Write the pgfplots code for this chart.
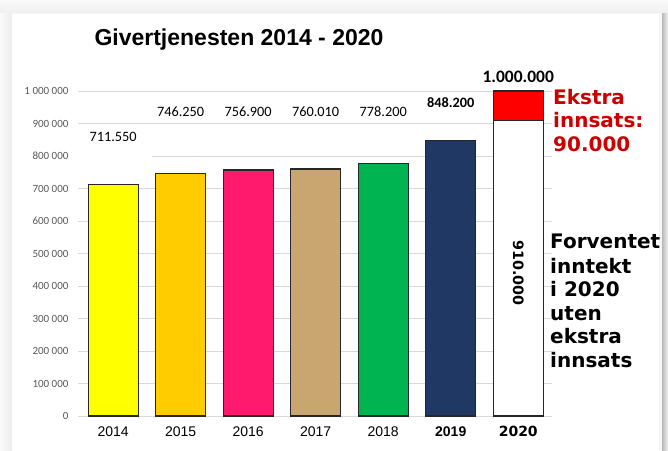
\documentclass[border=0pt]{standalone}
\usepackage{fontspec}
\setmainfont{Liberation Sans}
\newfontfamily\carl{Carlito}
\newfontfamily\dvs{DejaVu Sans}
\usepackage{pgfplots}
\pgfplotsset{compat=1.18}
\definecolor{c14}{HTML}{FFFF00}
\definecolor{c15}{HTML}{FFCC00}
\definecolor{c16}{HTML}{FF1A6E}
\definecolor{c17}{HTML}{C9A56F}
\definecolor{c18}{HTML}{00B451}
\definecolor{c19}{HTML}{1F3864}
\definecolor{redtxt}{HTML}{CC0000}
\definecolor{tickgray}{HTML}{595959}
\definecolor{gridgray}{HTML}{D9D9D9}
\begin{document}
\begin{tikzpicture}
\useasboundingbox (0pt,0pt) rectangle (668pt,450pt);
\fill[gray!6] (0pt,0pt) rectangle (668pt,450pt);
\shade[left color=gray!4, right color=gray!14] (0pt,0pt) rectangle (12pt,437pt);
\shade[top color=gray!4, bottom color=gray!12] (0pt,437pt) rectangle (668pt,450pt);
\fill[white] (12pt,0pt) rectangle (659pt,436pt);
\fill[gray!8] (659pt,0pt) rectangle (662pt,436pt);
\shade[left color=gray!55, right color=gray!10] (662pt,0pt) rectangle (668pt,436pt);
\node[anchor=base, font=\bfseries\fontsize{23}{27}\selectfont] at (239pt,404pt) {Givertjenesten 2014 - 2020};
\begin{axis}[
  at={(78pt,34pt)}, anchor=south west, scale only axis,
  width=474pt, height=325pt,
  xmin=-0.52, xmax=6.5, ymin=0, ymax=1000000,
  clip=false,
  axis line style={draw=none},
  ymajorgrids, grid style={color=gridgray, line width=0.9pt},
  major tick length=0pt,
  scaled y ticks=false,
  ytick={0,100000,200000,300000,400000,500000,600000,700000,800000,900000,1000000},
  /pgf/number format/fixed,
  /pgf/number format/precision=0,
  /pgf/number format/assume math mode=true,
  /pgf/number format/1000 sep={\hspace{2.5pt}},
  yticklabel style={font=\carl\fontsize{11}{13}\selectfont, text=tickgray, xshift=-6pt},
  xtick={0,1,2,3,4,5,6},
  xticklabels={2014,2015,2016,2017,2018,\textbf{2019},{\dvs\bfseries 2020}},
  xticklabel style={font=\fontsize{14}{16}\selectfont, yshift=-7pt},
  mybar/.style={ybar, bar width=50pt, bar shift=0pt, draw=black!85, line width=1.1pt},
]
\addplot[mybar, fill=c14] coordinates {(0,711550)};
\addplot[mybar, fill=c15] coordinates {(1,746250)};
\addplot[mybar, fill=c16] coordinates {(2,756900)};
\addplot[mybar, fill=c17] coordinates {(3,760010)};
\addplot[mybar, fill=c18] coordinates {(4,778200)};
\addplot[mybar, fill=c19] coordinates {(5,848200)};
\addplot[mybar, fill=red] coordinates {(6,1000000)};
\addplot[mybar, fill=white] coordinates {(6,910000)};
\fill[white] (axis cs:-0.52,790000) rectangle (axis cs:0.58,880000);
\node[font=\carl\fontsize{14.3}{16}\selectfont] at (axis cs:0,858000) {711.550};
\node[font=\carl\fontsize{14.3}{16}\selectfont] at (axis cs:1,935000) {746.250};
\node[font=\carl\fontsize{14.3}{16}\selectfont] at (axis cs:2,935000) {756.900};
\node[font=\carl\fontsize{14.3}{16}\selectfont] at (axis cs:3,935000) {760.010};
\node[font=\carl\fontsize{14.3}{16}\selectfont] at (axis cs:4,935000) {778.200};
\node[font=\carl\bfseries\fontsize{14.3}{16}\selectfont] at (axis cs:5,963000) {848.200};
\node[font=\carl\bfseries\fontsize{17.5}{20}\selectfont] at (axis cs:6,1045000) {1.000.000};
\node[font=\dvs\bfseries\fontsize{14.3}{16}\selectfont, rotate=-90] at (axis cs:6,440000) {910.000};
\end{axis}
\foreach \t/\yy in {Ekstra/105, innsats:/128, 90.000/152}{
  \node[anchor=base west, inner sep=0pt, text=redtxt, font=\dvs\bfseries\fontsize{20}{24}\selectfont] at (553pt,450pt-\yy pt) {\t};
}
\foreach \t/\yy in {Forventet/249, inntekt/273, i 2020/296, uten/320, ekstra/343, innsats/367}{
  \node[anchor=base west, inner sep=0pt, font=\dvs\bfseries\fontsize{20}{24}\selectfont] at (550pt,450pt-\yy pt) {\t};
}
\end{tikzpicture}
\end{document}
